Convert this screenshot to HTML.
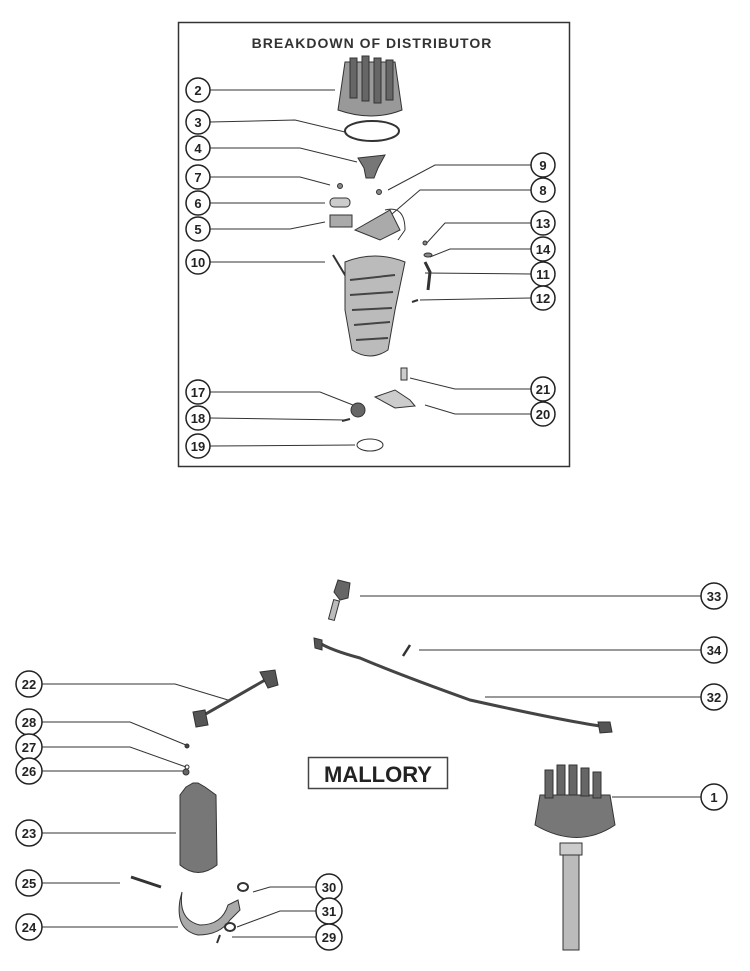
<!DOCTYPE html>
<html><head><style>
html,body{margin:0;padding:0;background:#fff;}
svg{display:block}
text{font-family:"Liberation Sans",sans-serif;font-weight:bold;}
</style></head><body>
<svg width="750" height="971" viewBox="0 0 750 971" xmlns="http://www.w3.org/2000/svg">
<rect x="178.5" y="22.5" width="391" height="444" fill="none" stroke="#333" stroke-width="1.5"/>
<text x="372" y="48" font-size="14" text-anchor="middle" fill="#333" letter-spacing="1">BREAKDOWN OF DISTRIBUTOR</text>

<g stroke="#333" stroke-width="1" fill="none">
<!-- top box leaders -->
<polyline points="210,90 335,90"/>
<polyline points="210,122 295,120 345,132"/>
<polyline points="210,148 300,148 357,162"/>
<polyline points="210,177 300,177 330,185"/>
<polyline points="210,203 325,203"/>
<polyline points="210,229 290,229 325,222"/>
<polyline points="210,262 325,262"/>
<polyline points="531,165 435,165 388,190"/>
<polyline points="531,190 420,190 385,220"/>
<polyline points="531,223 445,223 425,245"/>
<polyline points="531,249 450,249 430,257"/>
<polyline points="531,274 425,273"/>
<polyline points="531,298 420,300"/>
<polyline points="531,389 455,389 410,378"/>
<polyline points="531,414 455,414 425,405"/>
<polyline points="210,392 320,392 358,407"/>
<polyline points="210,418 345,420"/>
<polyline points="210,446 355,445"/>
<!-- bottom leaders -->
<polyline points="360,596 701,596"/>
<polyline points="419,650 701,650"/>
<polyline points="485,697 701,697"/>
<polyline points="612,797 701,797"/>
<polyline points="42,684 175,684 228,700"/>
<polyline points="42,722 130,722 186,745"/>
<polyline points="42,747 130,747 186,767"/>
<polyline points="42,771 186,771"/>
<polyline points="42,833 176,833"/>
<polyline points="42,883 120,883"/>
<polyline points="42,927 178,927"/>
<polyline points="316,887 270,887 253,892"/>
<polyline points="316,911 280,911 237,927"/>
<polyline points="316,937 232,937"/>
</g>

<!-- callout circles -->
<g font-size="13" text-anchor="middle" fill="#222">
<g stroke="#222" stroke-width="1.5" fill="#fff">
<circle cx="198" cy="90" r="12"/><circle cx="198" cy="122" r="12"/><circle cx="198" cy="148" r="12"/>
<circle cx="198" cy="177" r="12"/><circle cx="198" cy="203" r="12"/><circle cx="198" cy="229" r="12"/>
<circle cx="198" cy="262" r="12"/><circle cx="198" cy="392" r="12"/><circle cx="198" cy="418" r="12"/>
<circle cx="198" cy="446" r="12"/>
<circle cx="543" cy="165" r="12"/><circle cx="543" cy="190" r="12"/><circle cx="543" cy="223" r="12"/>
<circle cx="543" cy="249" r="12"/><circle cx="543" cy="274" r="12"/><circle cx="543" cy="298" r="12"/>
<circle cx="543" cy="389" r="12"/><circle cx="543" cy="414" r="12"/>
<circle cx="714" cy="596" r="13"/><circle cx="714" cy="650" r="13"/><circle cx="714" cy="697" r="13"/><circle cx="714" cy="797" r="13"/>
<circle cx="29" cy="684" r="13"/><circle cx="29" cy="722" r="13"/><circle cx="29" cy="747" r="13"/><circle cx="29" cy="771" r="13"/>
<circle cx="29" cy="833" r="13"/><circle cx="29" cy="883" r="13"/><circle cx="29" cy="927" r="13"/>
<circle cx="329" cy="887" r="13"/><circle cx="329" cy="911" r="13"/><circle cx="329" cy="937" r="13"/>
</g>
<text x="198" y="95">2</text><text x="198" y="127">3</text><text x="198" y="153">4</text>
<text x="198" y="182">7</text><text x="198" y="208">6</text><text x="198" y="234">5</text>
<text x="198" y="267">10</text><text x="198" y="397">17</text><text x="198" y="423">18</text><text x="198" y="451">19</text>
<text x="543" y="170">9</text><text x="543" y="195">8</text><text x="543" y="228">13</text>
<text x="543" y="254">14</text><text x="543" y="279">11</text><text x="543" y="303">12</text>
<text x="543" y="394">21</text><text x="543" y="419">20</text>
<text x="714" y="601">33</text><text x="714" y="655">34</text><text x="714" y="702">32</text><text x="714" y="802">1</text>
<text x="29" y="689">22</text><text x="29" y="727">28</text><text x="29" y="752">27</text><text x="29" y="776">26</text>
<text x="29" y="838">23</text><text x="29" y="888">25</text><text x="29" y="932">24</text>
<text x="329" y="892">30</text><text x="329" y="916">31</text><text x="329" y="942">29</text>
</g>

<!-- top box parts -->
<g fill="#888" stroke="#333" stroke-width="1">
<path d="M345,62 L395,62 L402,110 Q372,122 338,110 Z" fill="#999"/>
<g fill="#666"><rect x="350" y="58" width="7" height="40"/><rect x="362" y="56" width="7" height="45"/><rect x="374" y="58" width="7" height="45"/><rect x="386" y="60" width="7" height="40"/></g>
<ellipse cx="372" cy="131" rx="27" ry="10" fill="none" stroke-width="2"/>
<path d="M358,158 L385,155 L378,168 L374,178 L366,178 L364,168 Z" fill="#777"/>
<circle cx="340" cy="186" r="2.5"/><circle cx="379" cy="192" r="2.5"/>
<rect x="330" y="198" width="20" height="9" rx="4" fill="#ccc"/>
<rect x="330" y="215" width="22" height="12" fill="#aaa"/>
<path d="M355,230 L390,210 L400,230 L380,240 Z" fill="#aaa"/>
<path d="M385,210 Q405,205 405,230 L398,240" fill="none"/>
<path d="M333,255 L345,275 L360,265" fill="none" stroke-width="2"/>
<path d="M345,262 Q375,250 405,262 L395,310 L388,350 Q370,362 352,350 L345,310 Z" fill="#bbb"/>
<g stroke="#444" stroke-width="2"><line x1="350" y1="280" x2="395" y2="275"/><line x1="350" y1="295" x2="393" y2="292"/><line x1="352" y1="310" x2="392" y2="308"/><line x1="354" y1="325" x2="390" y2="322"/><line x1="356" y1="340" x2="388" y2="338"/></g>
<circle cx="425" cy="243" r="2"/><ellipse cx="428" cy="255" rx="4" ry="2"/>
<path d="M425,262 L430,272 L428,290" fill="none" stroke-width="3"/>
<line x1="412" y1="302" x2="418" y2="300" stroke-width="2"/>
<rect x="401" y="368" width="6" height="12" fill="#ccc"/>
<path d="M375,397 L395,390 L410,400 L415,406 L395,408 Z" fill="#ccc"/>
<circle cx="358" cy="410" r="7" fill="#666"/>
<line x1="342" y1="421" x2="350" y2="419" stroke-width="2"/>
<ellipse cx="370" cy="445" rx="13" ry="6" fill="none"/>
</g>

<!-- bottom parts -->
<g stroke="#333" stroke-width="1">
<path d="M338,580 L350,583 L348,598 L340,600 L334,592 Z" fill="#666"/>
<rect x="331" y="600" width="6" height="20" fill="#bbb" transform="rotate(15 334 610)"/>
<path d="M318,642 Q330,650 360,658 Q400,675 470,700 Q560,720 600,726" fill="none" stroke="#444" stroke-width="3"/>
<path d="M314,638 L322,640 L322,650 L315,648 Z" fill="#555"/>
<path d="M598,722 L610,722 L612,732 L600,733 Z" fill="#555"/>
<line x1="403" y1="656" x2="410" y2="645" stroke-width="2.5"/>
<path d="M195,720 Q220,706 265,680" fill="none" stroke="#444" stroke-width="3"/>
<path d="M260,672 L275,670 L278,685 L268,688 Z" fill="#555"/>
<path d="M193,712 L205,710 L208,725 L196,727 Z" fill="#555"/>
<circle cx="187" cy="746" r="2" fill="#444"/><circle cx="187" cy="767" r="2" fill="none"/><circle cx="186" cy="772" r="3" fill="#666"/>
<path d="M186,787 L193,783 L198,783 L205,787 L216,795 L217,865 Q198,880 180,865 L180,795 Z" fill="#777"/>
<line x1="131" y1="877" x2="161" y2="887" stroke-width="3"/>
<path d="M182,892 Q178,920 200,925 Q222,925 228,905 L238,900 L240,910 L230,920 Q220,935 198,935 Q175,930 180,900 Z" fill="#aaa"/>
<ellipse cx="243" cy="887" rx="5" ry="4" fill="none" stroke-width="2"/>
<ellipse cx="230" cy="927" rx="5" ry="4" fill="none" stroke-width="2"/>
<line x1="217" y1="943" x2="220" y2="935" stroke-width="2"/>
<!-- distributor -->
<path d="M540,795 L610,795 L615,825 Q578,850 535,825 Z" fill="#777"/>
<g fill="#666"><rect x="545" y="770" width="8" height="28"/><rect x="557" y="765" width="8" height="30"/><rect x="569" y="765" width="8" height="30"/><rect x="581" y="768" width="8" height="28"/><rect x="593" y="772" width="8" height="26"/></g>
<rect x="560" y="843" width="22" height="12" fill="#ccc"/>
<rect x="563" y="855" width="16" height="95" fill="#bbb"/>
</g>
<rect x="308.5" y="757.5" width="139" height="31" fill="#fff" stroke="#444" stroke-width="1.5"/>
<text x="378" y="782" font-size="22" text-anchor="middle" fill="#222">MALLORY</text>
</svg>
</body></html>
